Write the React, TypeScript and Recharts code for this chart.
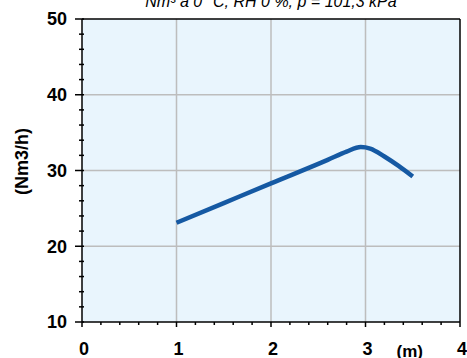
import { CartesianGrid, Line, LineChart, ReferenceLine, XAxis, YAxis } from 'recharts';

// depth (m) vs. flow (Nm3/h)
const depth = [1, 1.5, 2, 2.6, 2.8, 2.95, 3.05, 3.2, 3.35, 3.5];
const flow = [23.1, 25.7, 28.3, 31.4, 32.5, 33.1, 32.9, 31.85, 30.6, 29.2];

const xMajor = [0, 1, 2, 3, 4];
const xTicks = [0, 0.2, 0.4, 0.6, 0.8, 1, 1.2, 1.4, 1.6, 1.8, 2, 2.2, 2.4, 2.6, 2.8, 3, 3.2, 3.4, 3.6, 3.8, 4];
const yMajor = [10, 20, 30, 40, 50];
const yTicks = [10, 12, 14, 16, 18, 20, 22, 24, 26, 28, 30, 32, 34, 36, 38, 40, 42, 44, 46, 48, 50];
const gridX = [1, 2, 3];
const gridY = [20, 30, 40];

const title = 'Nm³ à 0 °C, RH 0 %, p = 101,3 kPa';
const yLabel = '(Nm3/h)';
const xLabel = '(m)';

const data = depth.map((d, i) => ({ depth: d, flow: flow[i] }));

const font = '"Liberation Sans", Arial, sans-serif';

const XTick = (props: any) => {
    const { x, y, payload } = props;
    const major = xMajor.includes(payload.value);
    return (
        <g>
            <line x1={x} x2={x} y1={y} y2={y + (major ? 5 : 3)} stroke="#000" strokeWidth={1.5} />
            {major && (
                <text x={x + 2} y={y + 33} textAnchor="middle" fontFamily={font} fontWeight="bold" fontSize={18} fill="#000">
                    {payload.value}
                </text>
            )}
        </g>
    );
};

const YTick = (props: any) => {
    const { x, y, payload } = props;
    const major = yMajor.includes(payload.value);
    return (
        <g>
            <line x1={x - (major ? 7 : 3)} x2={x + 2} y1={y} y2={y} stroke="#000" strokeWidth={1.5} />
            {major && (
                <text x={x - 15} y={y} dy="0.36em" textAnchor="end" fontFamily={font} fontWeight="bold" fontSize={18} fill="#000">
                    {payload.value}
                </text>
            )}
        </g>
    );
};

export default function App() {
    return (
        <div style={{ position: 'absolute', left: 0, top: 0, width: 467, height: 358, overflow: 'hidden', background: '#fff' }}>
            <div
                style={{
                    position: 'absolute',
                    left: 71,
                    width: 400,
                    top: -6.5,
                    textAlign: 'center',
                    fontFamily: font,
                    fontStyle: 'italic',
                    fontSize: 16,
                    lineHeight: '16px',
                    whiteSpace: 'nowrap',
                }}>
                {title}
            </div>
            <LineChart width={467} height={358} data={data} margin={{ top: 19, right: 7, left: 0, bottom: 0 }}>
                <CartesianGrid horizontal={false} vertical={false} fill="#e9f5fd" fillOpacity={1} />
                {gridX.map((v) => (
                    <ReferenceLine key={'gx' + v} x={v} stroke="#bdbdbd" strokeWidth={1.5} />
                ))}
                {gridY.map((v) => (
                    <ReferenceLine key={'gy' + v} y={v} stroke="#bdbdbd" strokeWidth={1.5} />
                ))}
                <ReferenceLine x={4} stroke="#000" strokeWidth={1.5} />
                <ReferenceLine y={50} stroke="#000" strokeWidth={1.5} />
                <XAxis
                    dataKey="depth"
                    type="number"
                    domain={[0, 4]}
                    ticks={xTicks}
                    interval={0}
                    height={36}
                    tickSize={0}
                    tickMargin={0}
                    tickLine={false}
                    axisLine={{ stroke: '#000', strokeWidth: 1.5 }}
                    tick={<XTick />}
                    label={{
                        value: xLabel,
                        content: (p: any) => (
                            <text
                                x={p.viewBox.x + p.viewBox.width - 37}
                                y={p.viewBox.y + 35}
                                textAnchor="end"
                                fontFamily={font}
                                fontWeight="bold"
                                fontSize={17}
                                fill="#000">
                                {xLabel}
                            </text>
                        ),
                    }}
                />
                <YAxis
                    type="number"
                    domain={[10, 50]}
                    ticks={yTicks}
                    interval={0}
                    width={82}
                    tickSize={0}
                    tickMargin={0}
                    tickLine={false}
                    axisLine={{ stroke: '#000', strokeWidth: 1.5 }}
                    tick={<YTick />}
                    label={{
                        value: yLabel,
                        content: (p: any) => {
                            const cx = p.viewBox.x + 22;
                            const cy = p.viewBox.y + p.viewBox.height / 2 - 9;
                            return (
                                <text
                                    x={cx}
                                    y={cy}
                                    dy="0.36em"
                                    transform={`rotate(-90 ${cx} ${cy})`}
                                    textAnchor="middle"
                                    fontFamily={font}
                                    fontWeight="bold"
                                    fontSize={18}
                                    fill="#000">
                                    {yLabel}
                                </text>
                            );
                        },
                    }}
                />
                <Line
                    type="monotone"
                    dataKey="flow"
                    stroke="#1559a3"
                    strokeWidth={4.5}
                    dot={false}
                    isAnimationActive={false}
                />
            </LineChart>
        </div>
    );
}
